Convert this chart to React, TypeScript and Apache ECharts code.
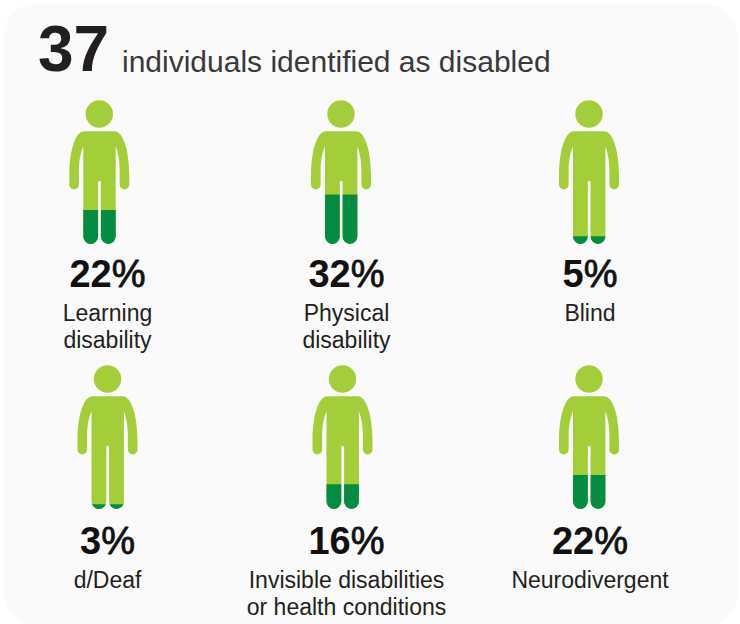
import React, { useEffect, useRef } from "react";
import * as echarts from "echarts";

const TOTAL = "37";
const HEADLINE = "individuals identified as disabled";
const GROUPS = ["Learning disability", "Physical disability", "Blind", "d/Deaf", "Invisible disabilities or health conditions", "Neurodivergent"];
const SHARES = [22, 32, 5, 3, 16, 22];
const CAPTIONS = [
  ["Learning", "disability"],
  ["Physical", "disability"],
  ["Blind"],
  ["d/Deaf"],
  ["Invisible disabilities", "or health conditions"],
  ["Neurodivergent"],
];

// Figure placement: horizontal centre of the person, baseline of the feet, centre of the text block
const FIGURE_X = [99.3, 341, 589, 107.5, 342.5, 589];
const FIGURE_BOTTOM = [244, 244, 244, 509, 509, 509];
const TEXT_X = [107.5, 346.5, 590, 107.5, 346.5, 590];
const SHARE_Y = [274, 274, 274, 541, 541, 541];
const CAPTION_Y = [313, 313, 313, 580, 580, 580];

const LIGHT = "#a4ce39";
const DARK = "#048c43";
const INK = "#231f20";
const FONT = "'Liberation Sans', Arial, sans-serif";

const PERSON =
  "path://M16.3 13.7A13.7 13.7 0 1 1 43.7 13.7A13.7 13.7 0 1 1 16.3 13.7Z" +
  "M15 31L45 31C54 31 60 50 60 76L60 84.4A4.8 4.8 0 0 1 50.4 84.4L50.4 72C50.4 61 49 53 46.4 46" +
  "L46.4 136.3A7.4 7.4 0 0 1 31.6 136.3L31.6 81L28.8 81L28.8 136.3A7.4 7.4 0 0 1 14 136.3" +
  "L14 46C11 53 9.6 61 9.6 72L9.6 84.4A4.8 4.8 0 0 1 0 84.4L0 76C0 50 6 31 15 31Z";
const FIGURE_SIZE = [60, 143.7];
const SCALE_HEIGHT = 155; // pixels spanned by 0–100 %

export default function App() {
  const ref = useRef<HTMLDivElement>(null);

  useEffect(() => {
    const chart = echarts.init(ref.current!, undefined, { renderer: "svg" });

    const grid = GROUPS.map((_, i) => ({
      left: FIGURE_X[i] - 40,
      width: 80,
      top: FIGURE_BOTTOM[i] - SCALE_HEIGHT,
      height: SCALE_HEIGHT,
    }));
    const xAxis = GROUPS.map((g, i) => ({
      type: "category" as const,
      gridIndex: i,
      data: [g],
      show: false,
    }));
    const yAxis = GROUPS.map((_, i) => ({
      type: "value" as const,
      gridIndex: i,
      min: 0,
      max: 100,
      show: false,
    }));
    const series = GROUPS.flatMap((_, i) => [
      {
        type: "pictorialBar" as const,
        xAxisIndex: i,
        yAxisIndex: i,
        data: [100],
        symbol: PERSON,
        symbolSize: FIGURE_SIZE,
        symbolPosition: "start",
        barWidth: 70,
        barGap: "-100%",
        itemStyle: { color: LIGHT },
        z: 2,
        silent: true,
      },
      {
        type: "pictorialBar" as const,
        xAxisIndex: i,
        yAxisIndex: i,
        data: [SHARES[i]],
        symbol: PERSON,
        symbolSize: FIGURE_SIZE,
        symbolPosition: "start",
        symbolClip: true,
        barWidth: 70,
        barGap: "-100%",
        itemStyle: { color: DARK },
        z: 3,
        silent: true,
      },
    ]);

    const texts: any[] = [
      {
        type: "rect",
        z: -1,
        shape: { x: 4, y: 4, width: 733, height: 621, r: 30 },
        style: { fill: "#fafafa" },
      },
      {
        type: "text",
        x: 38,
        y: 49,
        style: { text: TOTAL, font: `bold 64px ${FONT}`, fill: INK, verticalAlign: "middle" },
      },
      {
        type: "text",
        x: 122,
        y: 61,
        style: { text: HEADLINE, font: `30px ${FONT}`, fill: "#3a3839", verticalAlign: "middle" },
      },
    ];
    GROUPS.forEach((_, i) => {
      texts.push({
        type: "text",
        x: TEXT_X[i],
        y: SHARE_Y[i],
        style: {
          text: `{n|${SHARES[i]}}{p|%}`,
          align: "center",
          verticalAlign: "middle",
          rich: {
            n: { font: `bold 38px ${FONT}`, fill: "#111111" },
            p: { font: `38px ${FONT}`, fill: "#111111", stroke: "#111111", lineWidth: 0.8 },
          },
        },
      });
      CAPTIONS[i].forEach((line, k) => {
        texts.push({
          type: "text",
          x: TEXT_X[i],
          y: CAPTION_Y[i] + k * 27,
          style: {
            text: line,
            font: `23px ${FONT}`,
            fill: INK,
            align: "center",
            verticalAlign: "middle",
          },
        });
      });
    });

    chart.setOption({
      animation: false,
      backgroundColor: "#ffffff",
      grid,
      xAxis,
      yAxis,
      series,
      graphic: { elements: texts },
    });
    return () => chart.dispose();
  }, []);

  return <div ref={ref} style={{ position: "absolute", left: 0, top: 0, width: 740, height: 624 }} />;
}
